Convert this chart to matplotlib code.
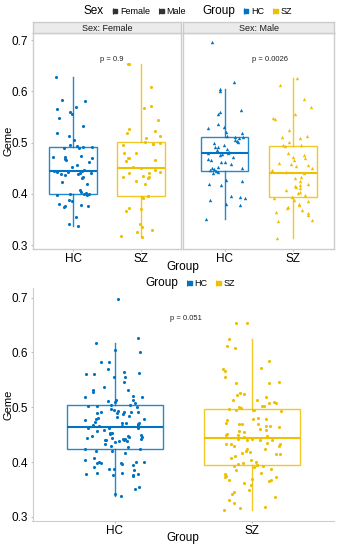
import numpy as np
import matplotlib
matplotlib.use("Agg")
import matplotlib.pyplot as plt
from matplotlib.lines import Line2D
from matplotlib.legend_handler import HandlerTuple

plt.rcParams["font.family"] = ["Liberation Sans", "DejaVu Sans"]

# Geme values, by sex and group
female_hc = [0.627, 0.583, 0.582, 0.570, 0.565, 0.560, 0.556, 0.547, 0.532, 0.518,
             0.513, 0.505, 0.496, 0.494, 0.492, 0.491, 0.490, 0.489, 0.473, 0.472,
             0.471, 0.469, 0.467, 0.466, 0.463, 0.456, 0.453, 0.447, 0.445, 0.444,
             0.443, 0.442, 0.441, 0.440, 0.439, 0.438, 0.437, 0.433, 0.430, 0.423,
             0.420, 0.407, 0.404, 0.401, 0.400, 0.400, 0.399, 0.398, 0.398, 0.388,
             0.385, 0.381, 0.378, 0.377, 0.376, 0.375, 0.354, 0.342, 0.338]
female_sz = [0.654, 0.654, 0.609, 0.571, 0.567, 0.544, 0.526, 0.523, 0.518, 0.513,
             0.508, 0.502, 0.500, 0.498, 0.497, 0.495, 0.480, 0.479, 0.470, 0.469,
             0.466, 0.464, 0.452, 0.450, 0.447, 0.443, 0.441, 0.440, 0.435, 0.433,
             0.433, 0.430, 0.424, 0.419, 0.396, 0.395, 0.393, 0.391, 0.372, 0.370,
             0.367, 0.342, 0.336, 0.330, 0.326, 0.318, 0.316]
male_hc = [0.697, 0.618, 0.604, 0.600, 0.563, 0.560, 0.555, 0.537, 0.531, 0.528,
           0.521, 0.518, 0.513, 0.511, 0.510, 0.508, 0.505, 0.503, 0.502, 0.500,
           0.495, 0.492, 0.491, 0.488, 0.485, 0.482, 0.480, 0.479, 0.478, 0.476,
           0.472, 0.467, 0.466, 0.463, 0.462, 0.459, 0.453, 0.451, 0.450, 0.448,
           0.446, 0.444, 0.442, 0.440, 0.427, 0.424, 0.420, 0.417, 0.396, 0.394,
           0.391, 0.388, 0.381, 0.378, 0.351]
male_sz = [0.625, 0.612, 0.584, 0.570, 0.556, 0.547, 0.545, 0.524, 0.513, 0.510,
           0.508, 0.502, 0.495, 0.495, 0.493, 0.479, 0.476, 0.472, 0.469, 0.466,
           0.461, 0.459, 0.456, 0.455, 0.450, 0.446, 0.443, 0.440, 0.433, 0.430,
           0.424, 0.420, 0.417, 0.415, 0.414, 0.411, 0.407, 0.404, 0.401, 0.398,
           0.394, 0.392, 0.388, 0.385, 0.381, 0.378, 0.375, 0.372, 0.368, 0.365,
           0.362, 0.359, 0.349, 0.346, 0.313]

groups = ["HC", "SZ"]
sexes = ["Female", "Male"]
p_sex = ["p = 0.9", "p = 0.0026"]
p_all = "p = 0.051"
colors = {"HC": "#0073C2", "SZ": "#EFC000"}

W, H = 344, 550
fig = plt.figure(figsize=(W / 100, H / 100), dpi=100)


def rect(x0, y0, x1, y1):
    return [x0 / W, 1 - y1 / H, (x1 - x0) / W, (y1 - y0) / H]


rng = np.random.default_rng(3)


def draw_panel(ax, data, marker, jit, ylim, ptxt):
    for i, g in enumerate(groups):
        c = colors[g]
        ax.boxplot([data[g]], positions=[i + 1], widths=0.7, showfliers=False,
                   patch_artist=True,
                   boxprops=dict(facecolor="white", edgecolor=c, linewidth=1.0, alpha=0.85),
                   whiskerprops=dict(color=c, linewidth=1.0, alpha=0.85),
                   capprops=dict(linewidth=0),
                   medianprops=dict(color=c, linewidth=1.5))
        y = np.array(data[g])
        x = i + 1 + rng.uniform(-jit, jit, len(y))
        ax.scatter(x, y, s=5 if marker == "o" else 6, marker=marker, color=c,
                   linewidths=0, zorder=3)
    ax.set_xlim(0.4, 2.6)
    ax.set_ylim(*ylim)
    ax.set_xticks([1, 2])
    ax.set_xticklabels(groups, fontsize=8.5)
    ax.set_yticks([0.3, 0.4, 0.5, 0.6, 0.7])
    ax.tick_params(length=1.5, color="#BBBBBB", pad=1.5, labelsize=8.5)
    ax.text(1.4, 0.662, ptxt, fontsize=5.5, va="center", ha="left", color="#222222")


panel_style = "#CCCCCC"

# top: faceted by sex
xs = [(32.5, 181.5), (183.5, 334)]
top_data = [{"HC": female_hc, "SZ": female_sz}, {"HC": male_hc, "SZ": male_sz}]
markers = ["o", "^"]
for k in range(2):
    ax = fig.add_axes(rect(xs[k][0], 33, xs[k][1], 249))
    draw_panel(ax, top_data[k], markers[k], 0.3, (0.2923, 0.7137), p_sex[k])
    for s in ax.spines.values():
        s.set_color(panel_style)
        s.set_linewidth(1.0)
    if k == 1:
        ax.set_yticklabels([])
        ax.tick_params(axis="y", length=0)
    else:
        ax.set_yticklabels(["0.3", "0.4", "0.5", "0.6", "0.7"])
    sax = fig.add_axes(rect(xs[k][0], 22, xs[k][1], 33))
    sax.set_facecolor("#EBEBEB")
    sax.set_xticks([])
    sax.set_yticks([])
    for s in sax.spines.values():
        s.set_color(panel_style)
        s.set_linewidth(1.0)
    sax.text(0.5, 0.45, "Sex: " + sexes[k], transform=sax.transAxes, ha="center",
             va="center", fontsize=6.5, color="#1A1A1A")

fig.text(8 / W, 1 - 141 / H, "Geme", rotation=90, ha="center", va="center", fontsize=8)
fig.text(183 / W, 1 - 267 / H, "Group", ha="center", va="center", fontsize=8.5)

# top legend
def key(c):
    return (Line2D([], [], color=c, lw=0, marker="|", markersize=5, markeredgewidth=0.8),
            Line2D([], [], color=c, lw=0, marker="s", markersize=2.5))

dark = "#333333"
h_top = [Line2D([], [], lw=0), key(dark), key(dark), Line2D([], [], lw=0),
         key(colors["HC"]), key(colors["SZ"])]
l_top = ["Sex", "Female", "Male", "Group", "HC", "SZ"]
leg = fig.legend(h_top, l_top, loc="center", bbox_to_anchor=(183.5 / W, 1 - 11 / H),
                 ncol=6, frameon=False, fontsize=6.5, handlelength=0.6, handletextpad=0.4,
                 columnspacing=0.8, handler_map={tuple: HandlerTuple(ndivide=None, pad=0)})
for t in leg.get_texts():
    if t.get_text() in ("Sex", "Group"):
        t.set_fontsize(8.5)
for i in (0, 3):
    leg.legend_handles[i].set_visible(False)

# bottom: all subjects
axb = fig.add_axes(rect(32.5, 288, 334, 521))
all_data = {"HC": female_hc + male_hc, "SZ": female_sz + male_sz}
draw_panel(axb, all_data, "o", 0.22, (0.2925, 0.7177), p_all)
axb.set_yticklabels(["0.3", "0.4", "0.5", "0.6", "0.7"])
axb.spines["top"].set_visible(False)
axb.spines["right"].set_visible(False)
axb.spines["left"].set_color(panel_style)
axb.spines["bottom"].set_color(panel_style)

fig.text(8 / W, 1 - 405 / H, "Geme", rotation=90, ha="center", va="center", fontsize=8)
fig.text(183 / W, 1 - 538 / H, "Group", ha="center", va="center", fontsize=8.5)

h_bot = [Line2D([], [], lw=0), key(colors["HC"]), key(colors["SZ"])]
leg2 = fig.legend(h_bot, ["Group", "HC", "SZ"], loc="center",
                  bbox_to_anchor=(186 / W, 1 - 283 / H), ncol=3, frameon=False,
                  fontsize=6.5, handlelength=0.6, handletextpad=0.4, columnspacing=0.8,
                  handler_map={tuple: HandlerTuple(ndivide=None, pad=0)})
leg2.get_texts()[0].set_fontsize(8.5)
leg2.legend_handles[0].set_visible(False)

fig.savefig("out.png", dpi=100)
